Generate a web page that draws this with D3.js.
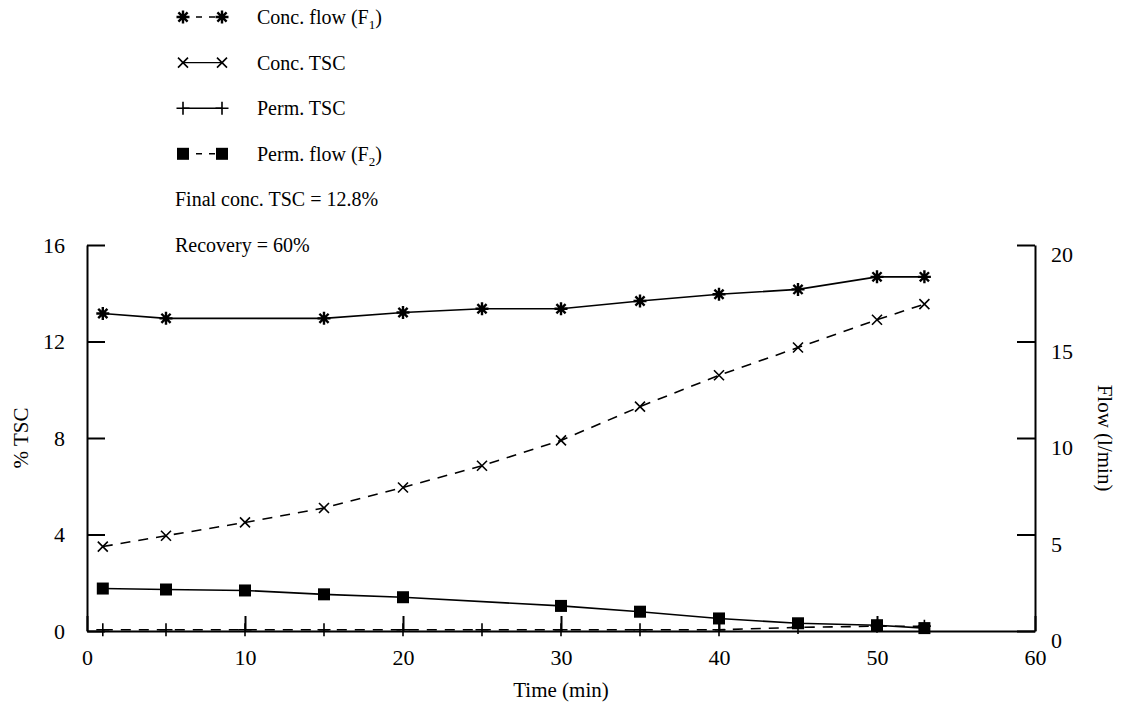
<!DOCTYPE html>
<html>
<head>
<meta charset="utf-8">
<title>TSC and flow vs time</title>
<script src="https://d3js.org/d3.v7.min.js"></script>
<style>
  body { margin: 0; background: #fff; }
  text { font-family: "Liberation Serif", "Times New Roman", serif; fill: #000; }
  .axis path, .axis line { stroke: #000; stroke-width: 2px; }
  .axis text { font-size: 22px; font-family: "Liberation Serif", serif; }
  .series { fill: none; stroke: #000; stroke-width: 1.6px; }
</style>
</head>
<body>
<svg width="1131" height="723"></svg>
<script>
// values
var concFlowTime = [1, 5, 15, 20, 25, 30, 35, 40, 45, 50, 53];
var concFlow     = [16.45, 16.2, 16.2, 16.5, 16.7, 16.7, 17.1, 17.45, 17.7, 18.35, 18.35];

var concTscTime = [1, 5, 10, 15, 20, 25, 30, 35, 40, 45, 50, 53];
var concTsc     = [3.5, 3.95, 4.5, 5.1, 5.95, 6.85, 7.9, 9.3, 10.6, 11.75, 12.9, 13.55];

var permTscTime = [1, 5, 10, 15, 20, 25, 30, 35, 40, 45, 50, 53];
var permTsc     = [0.05, 0.05, 0.05, 0.05, 0.05, 0.05, 0.05, 0.05, 0.05, 0.15, 0.2, 0.2];

var permFlowTime = [1, 5, 10, 15, 20, 30, 35, 40, 45, 50, 53];
var permFlow     = [2.2, 2.15, 2.1, 1.9, 1.75, 1.3, 1.0, 0.65, 0.4, 0.3, 0.15];

var xTicks = [0, 10, 20, 30, 40, 50, 60];
var leftTicks = [0, 4, 8, 12, 16];
var rightTicks = [0, 5, 10, 15, 20];

var legendLabels = ["Conc. flow (F", "Conc. TSC", "Perm. TSC", "Perm. flow (F"];
var legendSubs = ["1", "", "", "2"];
var notes = ["Final conc. TSC = 12.8%", "Recovery = 60%"];

var svg = d3.select("svg");

var x = d3.scaleLinear().domain([0, 60]).range([87, 1035]);
var yL = d3.scaleLinear().domain([0, 16]).range([631, 245]);
var yR = d3.scaleLinear().domain([0, 20]).range([631, 245]);

// marker shapes
function asterisk(s) {
  var d = s * 0.707;
  return "M" + (-s) + ",0L" + s + ",0M0," + (-s) + "L0," + s +
         "M" + (-d) + "," + (-d) + "L" + d + "," + d +
         "M" + (-d) + "," + d + "L" + d + "," + (-d);
}
function cross(s) {
  return "M" + (-s) + "," + (-s) + "L" + s + "," + s + "M" + (-s) + "," + s + "L" + s + "," + (-s);
}
function plus(s) {
  return "M" + (-s) + ",0L" + s + ",0M0," + (-s) + "L0," + s;
}

var series = [
  {t: concFlowTime, v: concFlow, y: yR, dash: null, mark: "ast"},
  {t: concTscTime, v: concTsc, y: yL, dash: "10,8", mark: "x"},
  {t: permTscTime, v: permTsc, y: yL, dash: "10,8", mark: "plus"},
  {t: permFlowTime, v: permFlow, y: yR, dash: null, mark: "sq"}
];

function drawMark(g, kind, px, py) {
  if (kind === "sq") {
    g.append("rect").attr("x", px - 6).attr("y", py - 6).attr("width", 12).attr("height", 12)
      .attr("fill", "#000");
  } else {
    var p = kind === "ast" ? asterisk(6.5) : kind === "x" ? cross(5) : plus(6.5);
    g.append("path").attr("d", p).attr("transform", "translate(" + px + "," + py + ")")
      .attr("stroke", "#000").attr("stroke-width", kind === "ast" ? 2.4 : 1.6).attr("fill", "none");
  }
}

// axes
svg.append("g").attr("class", "axis")
  .attr("transform", "translate(0," + yL(0) + ")")
  .call(d3.axisBottom(x).tickValues(xTicks).tickSize(-15).tickSizeOuter(0).tickPadding(18));

svg.append("g").attr("class", "axis")
  .attr("transform", "translate(" + x(0) + ",0)")
  .call(d3.axisLeft(yL).tickValues(leftTicks).tickSize(-18).tickSizeOuter(0).tickPadding(22));

svg.append("g").attr("class", "axis")
  .attr("transform", "translate(" + x(60) + ",0)")
  .call(d3.axisRight(yR).tickValues(rightTicks).tickSize(-18).tickSizeOuter(0).tickPadding(16))
  .selectAll("text").attr("dy", "0.75em");

// lines and markers
series.forEach(function (s) {
  var pts = s.t.map(function (t, i) { return [x(t), s.y(s.v[i])]; });
  svg.append("path").attr("class", "series")
    .attr("d", d3.line()(pts))
    .attr("stroke-dasharray", s.dash);
  var g = svg.append("g");
  pts.forEach(function (p) { drawMark(g, s.mark, p[0], p[1]); });
});

// axis titles
svg.append("text").attr("x", x(30)).attr("y", 697).attr("text-anchor", "middle")
  .style("font-size", "21px").text("Time (min)");
svg.append("text").attr("transform", "translate(28,438) rotate(-90)").attr("text-anchor", "middle")
  .style("font-size", "21px").text("% TSC");
svg.append("text").attr("transform", "translate(1098,438) rotate(90)").attr("text-anchor", "middle")
  .style("font-size", "21px").text("Flow (l/min)");

// legend
var legY = d3.scaleLinear().domain([0, 5]).range([17, 245]);
var legKinds = ["ast", "x", "plus", "sq"];
var legDash = ["6,7", null, null, "6,7"];
legendLabels.forEach(function (lab, i) {
  var yy = legY(i);
  svg.append("line").attr("x1", 183).attr("x2", 222).attr("y1", yy).attr("y2", yy)
    .attr("stroke", "#000").attr("stroke-width", 1.4).attr("stroke-dasharray", legDash[i]);
  var g = svg.append("g");
  drawMark(g, legKinds[i], 183, yy);
  drawMark(g, legKinds[i], 222, yy);
  var t = svg.append("text").attr("x", 257).attr("y", yy).attr("dy", "0.35em")
    .style("font-size", "20px");
  t.append("tspan").text(lab);
  if (legendSubs[i]) {
    t.append("tspan").attr("dy", "5").style("font-size", "13px").text(legendSubs[i]);
    t.append("tspan").attr("dy", "-5").text(")");
  }
});
notes.forEach(function (n, i) {
  svg.append("text").attr("x", 175).attr("y", legY(4 + i)).attr("dy", "0.35em")
    .style("font-size", "20px").text(n);
});
</script>
</body>
</html>
